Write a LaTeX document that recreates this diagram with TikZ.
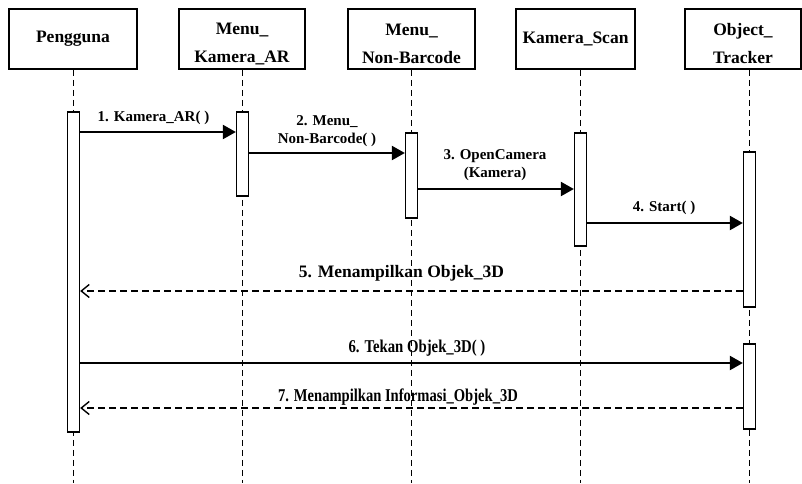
\documentclass[tikz,border=0pt]{standalone}
\usepackage{fontspec}
\usepackage{graphicx}
\setmainfont{Liberation Serif}
\usetikzlibrary{arrows.meta}
\newcommand{\hup}{\rule{0pt}{22pt}}
\begin{document}
\begin{tikzpicture}[x=1pt,y=-1pt,
 head/.style={draw, line width=1.6pt, minimum height=60pt, align=center, font=\fontsize{17.5}{28}\selectfont\bfseries, inner sep=0pt},
 life/.style={line width=1.4pt, dash pattern=on 6pt off 4pt},
 act/.style={draw, fill=white, line width=1.3pt, minimum width=12pt, inner sep=0pt},
 msg/.style={line width=2.2pt, -{Triangle[length=13pt,width=14pt]}},
 ret/.style={line width=1.4pt, dash pattern=on 7pt off 4pt, -{Straight Barb[length=8pt,width=13pt,line width=1.4pt]}},
 lbl/.style={font=\fontsize{15}{18}\selectfont\bfseries, align=center, inner sep=0pt},
]
\useasboundingbox[fill=white] (0,0) rectangle (802,483);

% headers
\node[head, minimum width=128pt] (h1) at (73,39) {Pengguna};
\node[head, minimum width=126pt] (h2) at (242,39) {\hup Menu\_\\Kamera\_AR};
\node[head, minimum width=127pt] (h3) at (411.5,39) {\hup Menu\_\\Non-Barcode};
\node[head, minimum width=119pt] (h4) at (575.5,39) {Kamera\_Scan};
\node[head, minimum width=116pt] (h5) at (743,39) {\hup Object\_\\Tracker};

% lifeline positions
\coordinate (l1) at (73.5,0);
\coordinate (l2) at (242.5,0);
\coordinate (l3) at (411.5,0);
\coordinate (l4) at (580.5,0);
\coordinate (l5) at (749.5,0);

\draw[life] (l1 |- h1.south) -- (l1 |- 0,483);
\draw[life] (l2 |- h2.south) -- (l2 |- 0,483);
\draw[life] (l3 |- h3.south) -- (l3 |- 0,483);
\draw[life] (l4 |- h4.south) -- (l4 |- 0,483);
\draw[life] (l5 |- h5.south) -- (l5 |- 0,483);

% activation bars
\node[act, minimum height=320pt] (a1) at (l1 |- 0,272) {};
\node[act, minimum height=84pt]  (a2) at (l2 |- 0,154) {};
\node[act, minimum height=85pt]  (a3) at (l3 |- 0,175.5) {};
\node[act, minimum height=113pt] (a4) at (l4 |- 0,189.5) {};
\node[act, minimum height=155pt] (a5) at (l5 |- 0,229.5) {};
\node[act, minimum height=85pt]  (a6) at (l5 |- 0,386.5) {};

% messages
\draw[msg] (a1.east |- 0,132) -- (a2.west |- 0,132);
\node[lbl] (t1) at (153.5,118) {1. Kamera\_AR( )};

\draw[msg] (a2.east |- 0,153) -- (a3.west |- 0,153);
\node[lbl] (t2) at (327,131) {2. Menu\_\\Non-Barcode( )};

\draw[msg] (a3.east |- 0,189) -- (a4.west |- 0,189);
\node[lbl] (t3) at (495,165) {3. OpenCamera\\(Kamera)};

\draw[msg] (a4.east |- 0,223) -- (a5.west |- 0,223);
\node[lbl] (t4) at (664,208) {4. Start( )};

\draw[ret] (a5.west |- 0,291) -- (a1.east |- 0,291);
\node[lbl, font=\fontsize{17.5}{20}\selectfont\bfseries] (t5) at (401.5,273) {5. Menampilkan Objek\_3D};

\draw[msg] (a1.east |- 0,363) -- (a6.west |- 0,363);
\node[lbl, font=\fontsize{18}{20}\selectfont\bfseries] (t6) at (417,348) {\scalebox{0.82}[1]{6. Tekan Objek\_3D( )}};

\draw[ret] (a6.west |- 0,408) -- (a1.east |- 0,408);
\node[lbl, font=\fontsize{18}{20}\selectfont\bfseries] (t7) at (398,397) {\scalebox{0.81}[1]{7. Menampilkan Informasi\_Objek\_3D}};
\end{tikzpicture}
\end{document}
